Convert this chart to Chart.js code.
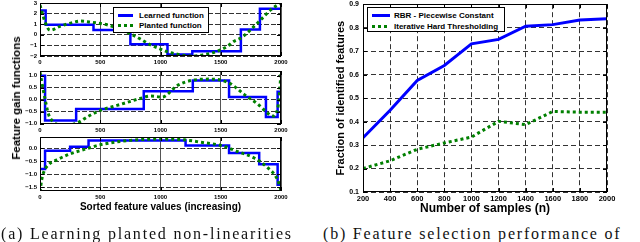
<!DOCTYPE html>
<html lang="en">
<head>
<meta charset="UTF-8">
<title>Planted non-linearities / feature selection</title>
<script src="https://cdn.jsdelivr.net/npm/chart.js@4.4.1/dist/chart.umd.min.js"></script>
<style>
    * { margin: 0; padding: 0; box-sizing: border-box; }
    body {
        width: 640px; height: 242px; background: #fff;
        position: relative; overflow: hidden;
        font-family: 'Liberation Sans', Arial, sans-serif;
    }
    canvas { position: absolute; }
    .ylab {
        position: absolute; font-weight: bold; white-space: nowrap;
        transform: translate(-50%, -50%) rotate(-90deg);
    }
    .legend {
        position: absolute; background: #fff; border: 1px solid #000;
        font-weight: bold; font-size: 8px;
    }
    .legend .sw { position: absolute; height: 3px; }
    .legend .tx { position: absolute; line-height: 9px; white-space: nowrap; }
    .solid-blue { background: #0000ff; }
    .dot-green { background: repeating-linear-gradient(90deg, #008000 0 3px, transparent 3px 6px); }
    .caption {
        position: absolute; font-family: 'Liberation Serif', serif; font-size: 16px;
        letter-spacing: 1.8px; white-space: nowrap; line-height: 16px; color: #111;
    }
</style>
</head>
<body>
    <canvas id="p1" width="292" height="73" style="left:0; top:-5px"></canvas>
    <canvas id="p2" width="292" height="73" style="left:0; top:63px"></canvas>
    <canvas id="p3" width="292" height="86" style="left:0; top:129px"></canvas>
    <canvas id="right" width="340" height="222" style="left:300px; top:-4px"></canvas>

    <div class="ylab" style="left:16px; top:98px; font-size:11.5px">Feature gain functions</div>

    <div class="legend" style="left:113px; top:7px; width:96px; height:26px">
        <span class="sw solid-blue" style="left:4px; top:6px; width:15px"></span>
        <span class="tx" style="left:25px; top:3px">Learned function</span>
        <span class="sw dot-green" style="left:4px; top:16px; width:15px"></span>
        <span class="tx" style="left:25px; top:13px">Planted function</span>
    </div>

    <div class="legend" style="left:367px; top:7px; width:138px; height:25px">
        <span class="sw solid-blue" style="left:4px; top:6px; width:18px"></span>
        <span class="tx" style="left:26px; top:3px">RBR - Piecewise Constant</span>
        <span class="sw dot-green" style="left:4px; top:17px; width:18px"></span>
        <span class="tx" style="left:26px; top:14px">Iterative Hard Thresholding</span>
    </div>

    <div class="caption" style="left:1px; top:226px">(a) Learning planted non-linearities</div>
    <div class="caption" style="left:323px; top:226px">(b) Feature selection performance of</div>

<script>
// left panels: sorted feature index on x
const sortedTicks = [0, 500, 1000, 1500, 2000];

const learned1X = [0, 47, 444, 750, 1058, 1264, 1667, 1825, 2000];
const learned1Y = [2.3, 0.95, 0.45, -0.9, -1.85, -1.55, 0.5, 2.45, 2.45];
const planted1X = [0, 20, 42, 83, 167, 278, 333, 417, 500, 583, 667, 750, 833, 917, 1000, 1056, 1150, 1250, 1350, 1472, 1556, 1611, 1667, 1750, 1833, 1917, 2000];
const planted1Y = [2.8, 2.0, 1.2, 0.43, 0.8, 1.18, 1.3, 1.2, 1.07, 0.87, 0.54, 0.1, -0.4, -0.95, -1.35, -1.6, -1.85, -2.0, -1.9, -1.55, -1.08, -0.6, -0.3, 0.5, 1.43, 2.38, 3.0];
const panel1Ticks = [-2, -1, 0, 1, 2, 3];

const learned2X = [0, 42, 300, 861, 1268, 1569, 1875, 1972, 2000];
const learned2Y = [1.0, -0.87, -0.39, 0.35, 0.8, 0.11, -0.73, 0.33, 0.33];
const planted2X = [0, 20, 42, 70, 111, 160, 230, 300, 400, 500, 600, 700, 833, 917, 1014, 1139, 1264, 1417, 1569, 1694, 1806, 1875, 1931, 1972, 1990, 2000];
const planted2Y = [1.15, 0.6, 0.02, -0.6, -0.93, -1.05, -1.05, -1.0, -0.7, -0.45, -0.3, -0.15, 0.05, 0.15, 0.11, 0.59, 0.81, 0.86, 0.7, 0.22, -0.18, -0.5, -0.69, -0.39, 0.43, 1.17];
const panel2Ticks = [-1.0, -0.5, 0.0, 0.5, 1.0];

const learned3X = [0, 42, 250, 403, 1208, 1569, 1819, 1972, 2000];
const learned3Y = [-0.8, -0.1, 0.05, 0.3, 0.1, -0.19, -0.62, -1.41, -1.41];
const planted3X = [0, 14, 28, 70, 139, 250, 389, 500, 750, 1000, 1194, 1333, 1514, 1639, 1778, 1889, 1972, 2000];
const planted3Y = [-1.68, -1.22, -0.96, -0.64, -0.45, -0.22, -0.02, 0.13, 0.3, 0.35, 0.32, 0.23, 0.09, -0.13, -0.38, -0.75, -1.22, -1.62];
const panel3Ticks = [-1.5, -1.0, -0.5, 0.0];

// right panel
const samples = [200, 400, 600, 800, 1000, 1200, 1400, 1600, 1800, 2000];
const rbrFraction = [0.331, 0.448, 0.575, 0.639, 0.731, 0.75, 0.806, 0.813, 0.833, 0.838];
const ihtFraction = [0.2, 0.233, 0.282, 0.309, 0.334, 0.401, 0.387, 0.443, 0.44, 0.44];
const fractionTicks = [0.1, 0.2, 0.3, 0.4, 0.5, 0.6, 0.7, 0.8, 0.9];

const BLUE = '#0000ff';
const GREEN = '#008000';
const MINUS = '\u2212';

function fmt(v, digits) {
    const s = Math.abs(v).toFixed(digits);
    return v < 0 ? MINUS + s : s;
}

function points(xs, ys) {
    return xs.map((x, i) => ({ x: x, y: ys[i] }));
}

// black box round the plot with inward ticks, like the old matplotlib style
const frame = {
    id: 'frame',
    afterDraw(chart) {
        const a = chart.chartArea;
        const ctx = chart.ctx;
        ctx.save();
        ctx.strokeStyle = '#000';
        ctx.lineWidth = 1;
        ctx.beginPath();
        chart.scales.x.ticks.forEach(t => {
            const px = Math.round(chart.scales.x.getPixelForValue(t.value)) + 0.5;
            ctx.moveTo(px, a.bottom); ctx.lineTo(px, a.bottom - 4);
            ctx.moveTo(px, a.top); ctx.lineTo(px, a.top + 4);
        });
        chart.scales.y.ticks.forEach(t => {
            const py = Math.round(chart.scales.y.getPixelForValue(t.value)) + 0.5;
            ctx.moveTo(a.left, py); ctx.lineTo(a.left + 4, py);
            ctx.moveTo(a.right, py); ctx.lineTo(a.right - 4, py);
        });
        ctx.stroke();
        ctx.strokeRect(Math.round(a.left) + 0.5, Math.round(a.top) + 0.5,
                       Math.round(a.right - a.left) - 1, Math.round(a.bottom - a.top) - 1);
        ctx.restore();
    }
};

function tickFont(size) {
    return { family: 'Liberation Sans', size: size, weight: 'bold' };
}

function panel(id, lx, ly, px, py, yMin, yMax, yTicks, digits, xTitle) {
    const xAxisHeight = xTitle ? 24 : 12;
    new Chart(document.getElementById(id), {
        type: 'line',
        data: {
            datasets: [
                { data: points(px, py), borderColor: GREEN, borderWidth: 3, borderDash: [3, 3],
                  cubicInterpolationMode: 'monotone', pointRadius: 0, order: 0 },
                { data: points(lx, ly), borderColor: BLUE, borderWidth: 2.5, stepped: 'before',
                  pointRadius: 0, order: 1 }
            ]
        },
        options: {
            responsive: false, animation: false, devicePixelRatio: 1,
            layout: { padding: { top: 8, right: 11, bottom: 0, left: 0 } },
            plugins: { legend: { display: false }, tooltip: { enabled: false } },
            scales: {
                x: {
                    type: 'linear', min: 0, max: 2000,
                    afterBuildTicks: s => { s.ticks = sortedTicks.map(v => ({ value: v })); },
                    afterFit: s => { s.height = xAxisHeight; },
                    grid: { color: '#555', lineWidth: 1, drawTicks: false },
                    border: { display: false },
                    ticks: { font: tickFont(6), color: '#000', padding: 3, maxRotation: 0, autoSkip: false,
                             callback: v => String(v) },
                    title: { display: !!xTitle, text: xTitle || '', color: '#000',
                             font: { family: 'Liberation Sans', size: 10, weight: 'bold' },
                             padding: { top: 0, bottom: 2 } }
                },
                y: {
                    min: yMin, max: yMax,
                    afterBuildTicks: s => { s.ticks = yTicks.map(v => ({ value: v })); },
                    afterFit: s => { s.width = 40; },
                    grid: { color: '#333', lineWidth: 1, drawTicks: false },
                    border: { display: false, dash: [5, 2] },
                    ticks: { font: tickFont(6), color: '#000', padding: 3, autoSkip: false,
                             callback: v => fmt(v, digits) }
                }
            }
        },
        plugins: [frame]
    });
}

panel('p1', learned1X, learned1Y, planted1X, planted1Y, -2, 3, panel1Ticks, 0, null);
panel('p2', learned2X, learned2Y, planted2X, planted2Y, -1.02, 1.2, panel2Ticks, 1, null);
panel('p3', learned3X, learned3Y, planted3X, planted3Y, -1.65, 0.43, panel3Ticks, 1,
      'Sorted feature values (increasing)');

new Chart(document.getElementById('right'), {
    type: 'line',
    data: {
        labels: samples,
        datasets: [
            { label: 'RBR - Piecewise Constant', data: points(samples, rbrFraction),
              borderColor: BLUE, borderWidth: 3, pointRadius: 0, tension: 0 },
            { label: 'Iterative Hard Thresholding', data: points(samples, ihtFraction),
              borderColor: GREEN, borderWidth: 3, borderDash: [3, 3], pointRadius: 0, tension: 0 }
        ]
    },
    options: {
        responsive: false, animation: false, devicePixelRatio: 1,
        layout: { padding: { top: 8, right: 33, bottom: 0, left: 0 } },
        plugins: { legend: { display: false }, tooltip: { enabled: false } },
        scales: {
            x: {
                type: 'linear', min: 200, max: 2000,
                afterBuildTicks: s => { s.ticks = samples.map(v => ({ value: v })); },
                afterFit: s => { s.height = 26; },
                grid: { color: '#333', lineWidth: 1, drawTicks: false },
                border: { display: false, dash: [5, 3] },
                ticks: { font: tickFont(7.5), color: '#000', padding: 2, maxRotation: 0, autoSkip: false,
                         callback: v => String(v) },
                title: { display: true, text: 'Number of samples (n)', color: '#000',
                         font: { family: 'Liberation Sans', size: 12, weight: 'bold' },
                         padding: { top: 0, bottom: 2 } }
            },
            y: {
                min: 0.1, max: 0.9,
                afterBuildTicks: s => { s.ticks = fractionTicks.map(v => ({ value: v })); },
                afterFit: s => { s.width = 63; },
                grid: { color: '#333', lineWidth: 1, drawTicks: false },
                border: { display: false, dash: [5, 3] },
                ticks: { font: tickFont(7), color: '#000', padding: 4, autoSkip: false,
                         callback: v => v.toFixed(1) },
                title: { display: true, text: 'Fraction of identified features', color: '#000',
                         font: { family: 'Liberation Sans', size: 11, weight: 'bold' },
                         padding: { top: 34, bottom: 0 } }
            }
        }
    },
    plugins: [frame]
});
</script>
</body>
</html>
